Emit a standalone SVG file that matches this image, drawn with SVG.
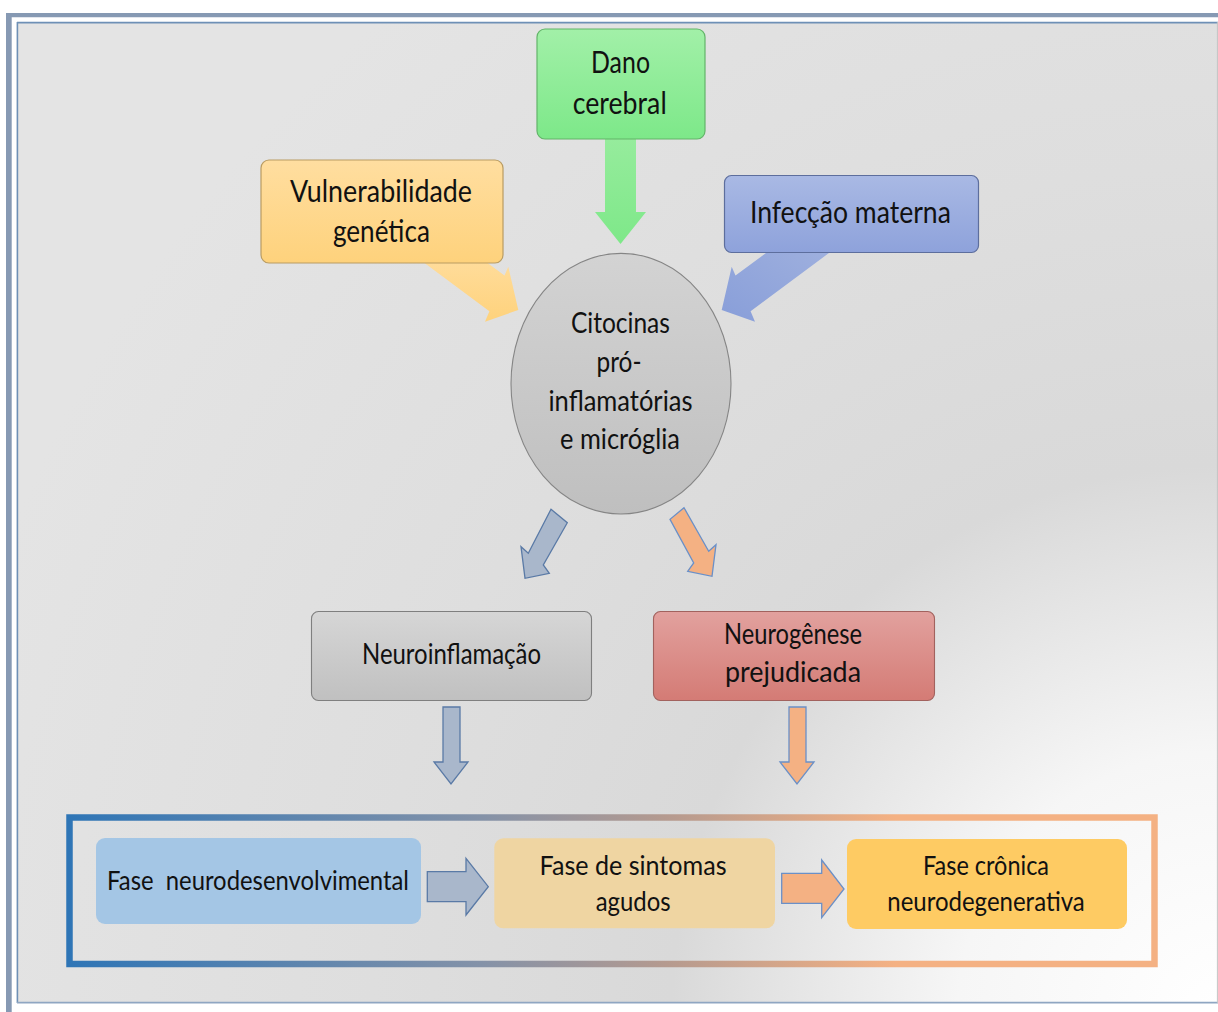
<svg xmlns="http://www.w3.org/2000/svg" width="1218" height="1012" viewBox="0 0 1218 1012">
  <defs>
    <radialGradient id="bgGlow" gradientUnits="userSpaceOnUse" cx="1218" cy="1012" r="1300">
      <stop offset="0" stop-color="#ffffff"/>
      <stop offset="0.2" stop-color="#f6f6f6"/>
      <stop offset="0.42" stop-color="#d9d9d9"/>
      <stop offset="0.65" stop-color="#dedede"/>
      <stop offset="1" stop-color="#e4e4e4"/>
    </radialGradient>
    <linearGradient id="gGreen" x1="0" y1="0" x2="0" y2="1">
      <stop offset="0" stop-color="#a2f0a8"/>
      <stop offset="1" stop-color="#7de889"/>
    </linearGradient>
    <linearGradient id="gYellow" x1="0" y1="0" x2="0" y2="1">
      <stop offset="0" stop-color="#ffdea0"/>
      <stop offset="1" stop-color="#fed27c"/>
    </linearGradient>
    <linearGradient id="gBlue" x1="0" y1="0" x2="0" y2="1">
      <stop offset="0" stop-color="#a9b9e4"/>
      <stop offset="1" stop-color="#8ea2db"/>
    </linearGradient>
    <linearGradient id="gGrey" x1="0" y1="0" x2="0" y2="1">
      <stop offset="0" stop-color="#d6d6d6"/>
      <stop offset="1" stop-color="#c0c0c0"/>
    </linearGradient>
    <linearGradient id="gRed" x1="0" y1="0" x2="0" y2="1">
      <stop offset="0" stop-color="#e2a19e"/>
      <stop offset="1" stop-color="#d47b75"/>
    </linearGradient>
    <linearGradient id="gCircle" x1="0" y1="0" x2="0" y2="1">
      <stop offset="0" stop-color="#d3d3d3"/>
      <stop offset="1" stop-color="#bfbfbf"/>
    </linearGradient>
    <linearGradient id="gGreenArrow" x1="0" y1="0" x2="0" y2="1">
      <stop offset="0" stop-color="#98ec9e"/>
      <stop offset="1" stop-color="#7ee889"/>
    </linearGradient>
    <linearGradient id="gBlueArrow" x1="1" y1="0" x2="0" y2="1">
      <stop offset="0" stop-color="#9fb0de"/>
      <stop offset="1" stop-color="#889ed9"/>
    </linearGradient>
    <linearGradient id="gPhaseFrame" gradientUnits="userSpaceOnUse" x1="67" y1="0" x2="1157" y2="0">
      <stop offset="0" stop-color="#2e75b6"/>
      <stop offset="0.38" stop-color="#8492a8"/>
      <stop offset="0.55" stop-color="#b59a8f"/>
      <stop offset="0.76" stop-color="#f4b183"/>
      <stop offset="1" stop-color="#f4b183"/>
    </linearGradient>
  </defs>
  <style>
    .lbl { font-family: Lato, "Liberation Sans", "DejaVu Sans", sans-serif; fill: #111111; text-anchor: middle; }
    .big { font-size: 30px; }
    .mid { font-size: 28px; }
    .small { font-size: 26.5px; }
    .pre { white-space: pre; }
    .arrowSlate { fill: #a9b7cb; stroke: #5a7aa6; stroke-width: 1.3; stroke-linejoin: miter; }
    .arrowPeach { fill: #f4b183; stroke: #6a90c8; stroke-width: 1.3; stroke-linejoin: miter; }
  </style>

  <!-- page background and frame -->
  <rect x="0" y="0" width="1218" height="1012" fill="#ffffff"/>
  <rect x="17" y="22" width="1201" height="981" fill="url(#bgGlow)"/>
  <path d="M6 1012 V13 H1218 V17.3 H11.7 V1012 Z" fill="#8699b3"/>
  <line x1="17" y1="22.6" x2="1218" y2="22.6" stroke="#6e90b6" stroke-width="1.6"/>
  <line x1="17.4" y1="22" x2="17.4" y2="1003" stroke="#6e90b6" stroke-width="1.6"/>
  <line x1="17" y1="1002.6" x2="1218" y2="1002.6" stroke="#8fa6c2" stroke-width="1.6"/>
  <line x1="1217.4" y1="22" x2="1217.4" y2="1003" stroke="#c4c4c4" stroke-width="1"/>

  <!-- connectors -->
  <g id="connectors">
    <polygon id="arrow-dano" points="605,130 636,130 636,212 646,212 620.5,244 595,212 605,212" fill="url(#gGreenArrow)"/>
    <polygon id="arrow-vulnerabilidade" points="407,250 470.1,250 504.5,275.6 508.3,266.7 518.3,310 485,321.7 489.4,311.3" fill="url(#gYellow)"/>
    <polygon id="arrow-infeccao" points="833,250 769.9,250 735.5,275.6 731.7,266.7 721.7,310 755,321.7 750.6,311.3" fill="url(#gBlueArrow)"/>
    <polygon id="arrow-neuroinflamacao" class="arrowSlate" points="551,509.3 567.3,522.7 543.3,565 549.3,573.3 525,578.3 521,546.7 528.3,553.3"/>
    <polygon id="arrow-neurogenese" class="arrowPeach" points="684,507.7 670,519.3 693.7,563 687.7,571.3 712,576.3 716,544.7 708.7,551.3"/>
    <polygon id="arrow-neuroinflamacao-down" class="arrowSlate" points="443,707 460,707 460,762 468,762 451,784 434,762 443,762"/>
    <polygon id="arrow-neurogenese-down" class="arrowPeach" points="789,707 806,707 806,762 814,762 797,784 780,762 789,762"/>
    <polygon id="arrow-phase-1-2" class="arrowSlate" points="427.3,871.7 466,871.7 466,858.3 488.3,886.7 466,915 466,901.7 427.3,901.7"/>
    <polygon id="arrow-phase-2-3" class="arrowPeach" points="781.7,873.3 821.7,873.3 821.7,860 844,889 821.7,917.7 821.7,903.3 781.7,903.3"/>
  </g>

  <!-- source factors -->
  <g id="node-dano-cerebral">
    <rect x="537" y="29" width="168" height="110" rx="8" fill="url(#gGreen)" stroke="#63b469" stroke-width="1.2"/>
    <text class="lbl big" x="620.5" y="73" textLength="59" lengthAdjust="spacingAndGlyphs">Dano</text>
    <text class="lbl big" x="619.7" y="114" textLength="94" lengthAdjust="spacingAndGlyphs">cerebral</text>
  </g>
  <g id="node-vulnerabilidade-genetica">
    <rect x="261" y="160" width="242" height="103" rx="8" fill="url(#gYellow)" stroke="#b99c62" stroke-width="1.2"/>
    <text class="lbl big" x="381" y="202" textLength="182" lengthAdjust="spacingAndGlyphs">Vulnerabilidade</text>
    <text class="lbl big" x="381.4" y="242" textLength="97" lengthAdjust="spacingAndGlyphs">genética</text>
  </g>
  <g id="node-infeccao-materna">
    <rect x="724.5" y="175.5" width="254" height="77" rx="7" fill="url(#gBlue)" stroke="#5d6e9d" stroke-width="1.2"/>
    <text class="lbl big" x="850.4" y="223" textLength="201" lengthAdjust="spacingAndGlyphs">Infecção materna</text>
  </g>

  <!-- central hub -->
  <g id="node-citocinas">
    <ellipse cx="621" cy="383.7" rx="110" ry="130.3" fill="url(#gCircle)" stroke="#858585" stroke-width="1.1"/>
    <text class="lbl mid" x="620.4" y="333" textLength="99" lengthAdjust="spacingAndGlyphs">Citocinas</text>
    <text class="lbl mid" x="619" y="372" textLength="45" lengthAdjust="spacingAndGlyphs">pró-</text>
    <text class="lbl mid" x="620.5" y="411" textLength="144" lengthAdjust="spacingAndGlyphs">inflamatórias</text>
    <text class="lbl mid" x="620" y="449" textLength="120" lengthAdjust="spacingAndGlyphs">e micróglia</text>
  </g>

  <!-- outcomes -->
  <g id="node-neuroinflamacao">
    <rect x="311.5" y="611.5" width="280" height="89" rx="7" fill="url(#gGrey)" stroke="#7f7f7f" stroke-width="1.1"/>
    <text class="lbl mid" x="451.5" y="664" textLength="179" lengthAdjust="spacingAndGlyphs">Neuroinflamação</text>
  </g>
  <g id="node-neurogenese-prejudicada">
    <rect x="653.5" y="611.5" width="281" height="89" rx="7" fill="url(#gRed)" stroke="#a2625e" stroke-width="1.1"/>
    <text class="lbl mid" x="793" y="644" textLength="138" lengthAdjust="spacingAndGlyphs">Neurogênese</text>
    <text class="lbl mid" x="793" y="682" textLength="136" lengthAdjust="spacingAndGlyphs">prejudicada</text>
  </g>

  <!-- disease phases -->
  <g id="node-fases">
    <rect x="69.5" y="817.5" width="1085" height="146.5" fill="none" stroke="url(#gPhaseFrame)" stroke-width="6.5"/>
  </g>
  <g id="node-fase-neurodesenvolvimental">
    <rect x="96" y="838" width="325" height="86" rx="9" fill="#a4c6e5"/>
    <text class="lbl small pre" x="258" y="889.5" textLength="302" lengthAdjust="spacingAndGlyphs">Fase  neurodesenvolvimental</text>
  </g>
  <g id="node-fase-sintomas-agudos">
    <rect x="494.3" y="838.3" width="280.7" height="90" rx="9" fill="#efd5a2"/>
    <text class="lbl small" x="633" y="875" textLength="187" lengthAdjust="spacingAndGlyphs">Fase de sintomas</text>
    <text class="lbl small" x="633.2" y="911" textLength="75" lengthAdjust="spacingAndGlyphs">agudos</text>
  </g>
  <g id="node-fase-cronica">
    <rect x="847" y="839" width="280" height="90" rx="9" fill="#fecb63"/>
    <text class="lbl small" x="986" y="875" textLength="126" lengthAdjust="spacingAndGlyphs">Fase crônica</text>
    <text class="lbl small" x="986" y="911" textLength="197.5" lengthAdjust="spacingAndGlyphs">neurodegenerativa</text>
  </g>
</svg>
